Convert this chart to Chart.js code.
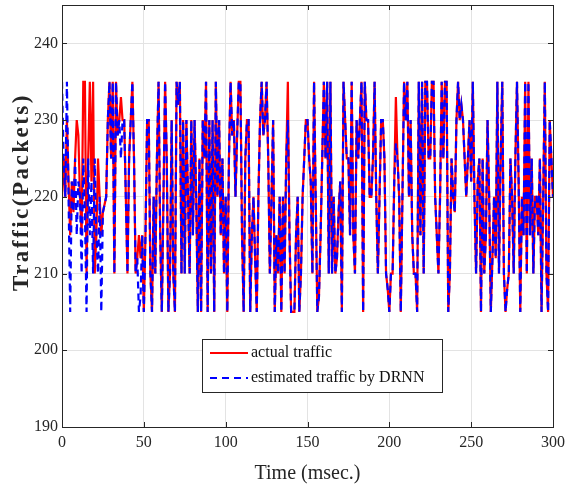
<!DOCTYPE html>
<html>
<head>
<meta charset="utf-8">
<script src="https://cdn.jsdelivr.net/npm/chart.js@4.4.1/dist/chart.umd.min.js"></script>
<style>
  html, body { margin: 0; padding: 0; background: #fff; }
  canvas { display: block; }
</style>
</head>
<body>
<canvas id="trafficChart" width="575" height="486"></canvas>
<script>
// values, one sample per msec (t = 0..300)
const estimatedTraffic = [
  235, 225, 220, 235, 220, 205, 222, 218, 225, 215,
  222, 220, 210, 225, 218, 205, 225, 215, 222, 210,
  225, 215, 210, 220, 205, 218, 219, 220, 230, 235,
  225, 235, 210, 235, 228, 230, 225, 230, 230, 220,
  210, 225, 230, 235, 225, 210, 212, 205, 207, 215,
  205, 215, 230, 230, 210, 205, 220, 210, 225, 235,
  215, 205, 220, 235, 225, 205, 210, 230, 210, 205,
  235, 232, 235, 210, 230, 210, 230, 220, 210, 230,
  215, 230, 220, 205, 225, 205, 230, 225, 235, 205,
  230, 210, 230, 205, 235, 220, 230, 215, 225, 210,
  220, 205, 225, 235, 228, 230, 220, 228, 235, 235,
  215, 205, 225, 230, 230, 205, 215, 220, 212, 205,
  220, 230, 235, 228, 230, 235, 225, 210, 220, 230,
  205, 215, 210, 220, 205, 220, 210, 225, 230, 215,
  205, 205, 205, 215, 220, 205, 210, 220, 225, 230,
  230, 225, 222, 210, 235, 220, 205, 207, 215, 225,
  235, 225, 235, 210, 235, 210, 220, 210, 212, 218,
  222, 205, 235, 230, 225, 225, 215, 235, 215, 210,
  230, 225, 230, 235, 205, 235, 230, 230, 220, 220,
  225, 235, 220, 210, 220, 230, 230, 225, 210, 208,
  205, 210, 210, 222, 227, 225, 220, 205, 220, 235,
  230, 235, 220, 230, 215, 210, 210, 205, 235, 215,
  235, 210, 235, 235, 225, 225, 235, 235, 220, 215,
  210, 220, 235, 225, 235, 235, 205, 210, 225, 220,
  218, 230, 235, 230, 232, 230, 225, 220, 225, 230,
  222, 235, 220, 210, 222, 225, 205, 225, 210, 215,
  230, 220, 205, 212, 220, 212, 235, 210, 225, 235,
  210, 205, 208, 210, 225, 220, 210, 225, 235, 222,
  205, 220, 215, 235, 210, 235, 215, 225, 210, 220,
  220, 215, 225, 205, 220, 235, 210, 205, 230, 225,
  220
];

const actualTraffic = [
  220, 225, 220, 230, 222, 215, 222, 218, 225, 230,
  228, 220, 215, 235, 235, 210, 225, 235, 222, 235,
  210, 215, 225, 220, 215, 218, 219, 220, 230, 235,
  225, 235, 210, 235, 228, 230, 233, 230, 230, 220,
  210, 225, 230, 235, 225, 210, 212, 215, 212, 215,
  205, 215, 230, 230, 210, 205, 220, 210, 225, 235,
  215, 205, 220, 235, 225, 205, 210, 230, 210, 205,
  235, 232, 235, 210, 230, 210, 230, 220, 210, 230,
  215, 230, 220, 205, 225, 205, 230, 225, 235, 205,
  230, 210, 230, 205, 235, 220, 230, 215, 225, 210,
  220, 205, 225, 235, 228, 230, 220, 228, 235, 235,
  215, 205, 225, 230, 230, 205, 215, 220, 212, 205,
  220, 230, 235, 228, 230, 235, 225, 210, 220, 230,
  205, 215, 210, 220, 205, 220, 210, 225, 235, 215,
  205, 205, 205, 215, 220, 205, 210, 220, 225, 230,
  230, 225, 222, 210, 235, 220, 205, 207, 215, 225,
  235, 225, 235, 210, 235, 210, 220, 210, 212, 218,
  222, 205, 235, 230, 225, 225, 215, 235, 215, 210,
  230, 225, 230, 235, 205, 235, 230, 230, 220, 220,
  225, 235, 220, 210, 220, 230, 230, 225, 210, 208,
  205, 210, 210, 222, 233, 225, 220, 205, 220, 235,
  230, 235, 220, 230, 215, 210, 210, 205, 235, 215,
  235, 210, 235, 235, 225, 225, 235, 235, 220, 215,
  210, 220, 235, 225, 235, 235, 205, 210, 225, 220,
  218, 230, 235, 230, 232, 230, 225, 220, 225, 230,
  222, 235, 220, 210, 222, 225, 205, 225, 210, 215,
  230, 220, 205, 212, 220, 212, 235, 210, 225, 235,
  210, 205, 208, 210, 225, 220, 210, 225, 235, 222,
  205, 220, 215, 235, 210, 235, 215, 225, 210, 220,
  220, 215, 225, 205, 220, 235, 210, 205, 230, 225,
  220
];

const xTicks = [0, 50, 100, 150, 200, 250, 300];
const yTicks = [190, 200, 210, 220, 230, 240];

const seriesNames = ['actual traffic', 'estimated traffic by DRNN'];

const serif = '"Liberation Serif", "DejaVu Serif", serif';
const axisColor = '#262626';

function toPoints(values) {
    return values.map((v, i) => ({ x: i, y: v }));
}

// MATLAB style box with inward ticks + legend inside the axes
const boxPlugin = {
    id: 'boxPlugin',
    afterDraw(chart) {
        const ctx = chart.ctx;
        const area = chart.chartArea;
        const xs = chart.scales.x;
        const ys = chart.scales.y;

        ctx.save();
        ctx.strokeStyle = axisColor;
        ctx.lineWidth = 1;
        ctx.strokeRect(area.left + 0.5, area.top + 0.5, area.right - area.left, area.bottom - area.top);

        const tick = 5;
        ctx.beginPath();
        xTicks.forEach(v => {
            const px = Math.round(xs.getPixelForValue(v)) + 0.5;
            ctx.moveTo(px, area.bottom);
            ctx.lineTo(px, area.bottom - tick);
            ctx.moveTo(px, area.top);
            ctx.lineTo(px, area.top + tick);
        });
        yTicks.forEach(v => {
            const py = Math.round(ys.getPixelForValue(v)) + 0.5;
            ctx.moveTo(area.left, py);
            ctx.lineTo(area.left + tick, py);
            ctx.moveTo(area.right, py);
            ctx.lineTo(area.right - tick, py);
        });
        ctx.stroke();

        // y axis title, drawn by hand to get the wide bold look
        ctx.save();
        ctx.translate(22, 192);
        ctx.rotate(-Math.PI / 2);
        ctx.font = 'bold 23px ' + serif;
        if ('letterSpacing' in ctx) ctx.letterSpacing = '2.5px';
        ctx.fillStyle = axisColor;
        ctx.textAlign = 'center';
        ctx.textBaseline = 'middle';
        ctx.fillText('Traffic(Packets)', 0, 0);
        ctx.restore();

        // legend
        const lx = 202, ly = 339, lw = 240, lh = 53;
        ctx.fillStyle = '#fff';
        ctx.fillRect(lx, ly, lw, lh);
        ctx.strokeStyle = axisColor;
        ctx.strokeRect(lx + 0.5, ly + 0.5, lw, lh);

        ctx.font = '16px ' + serif;
        ctx.textBaseline = 'middle';
        ctx.textAlign = 'left';
        chart.data.datasets.forEach((ds, i) => {
            const rowY = ly + 14 + i * 25;
            ctx.beginPath();
            ctx.strokeStyle = ds.borderColor;
            ctx.lineWidth = 2;
            ctx.setLineDash(ds.borderDash || []);
            ctx.moveTo(lx + 8, rowY);
            ctx.lineTo(lx + 46, rowY);
            ctx.stroke();
            ctx.setLineDash([]);
            ctx.fillStyle = '#111';
            ctx.fillText(ds.label, lx + 49, rowY);
        });
        ctx.restore();
    }
};

const ctx = document.getElementById('trafficChart').getContext('2d');
new Chart(ctx, {
    type: 'line',
    data: {
        datasets: [
            {
                label: seriesNames[0],
                data: toPoints(actualTraffic),
                borderColor: '#ff0000',
                borderWidth: 2.2,
                pointRadius: 0,
                tension: 0,
                order: 2
            },
            {
                label: seriesNames[1],
                data: toPoints(estimatedTraffic),
                borderColor: '#0000ff',
                borderWidth: 2.2,
                borderDash: [7, 5],
                pointRadius: 0,
                tension: 0,
                order: 1
            }
        ]
    },
    options: {
        responsive: false,
        animation: false,
        devicePixelRatio: 1,
        layout: { padding: { top: 5, right: 22, left: 0, bottom: 0 } },
        plugins: {
            legend: { display: false },
            tooltip: { enabled: false }
        },
        scales: {
            x: {
                type: 'linear',
                min: 0,
                max: 300,
                afterBuildTicks: scale => { scale.ticks = xTicks.map(v => ({ value: v })); },
                afterFit: scale => {
                    scale.height = 59;
                    scale.paddingLeft = 0;
                    scale.paddingRight = 0;
                },
                grid: { color: '#e3e3e3', drawTicks: false },
                border: { display: false },
                ticks: {
                    color: axisColor,
                    font: { family: serif, size: 16 },
                    padding: 6,
                    maxRotation: 0
                },
                title: {
                    display: true,
                    text: 'Time (msec.)',
                    color: axisColor,
                    font: { family: serif, size: 20 },
                    padding: { top: 0, bottom: 0 }
                }
            },
            y: {
                type: 'linear',
                min: 190,
                max: 245,
                afterBuildTicks: scale => { scale.ticks = yTicks.map(v => ({ value: v })); },
                afterFit: scale => {
                    scale.width = 62;
                    scale.paddingTop = 0;
                    scale.paddingBottom = 0;
                },
                grid: { color: '#e3e3e3', drawTicks: false },
                border: { display: false },
                ticks: {
                    color: axisColor,
                    font: { family: serif, size: 16 },
                    padding: 4
                }
            }
        }
    },
    plugins: [boxPlugin]
});
</script>
</body>
</html>
